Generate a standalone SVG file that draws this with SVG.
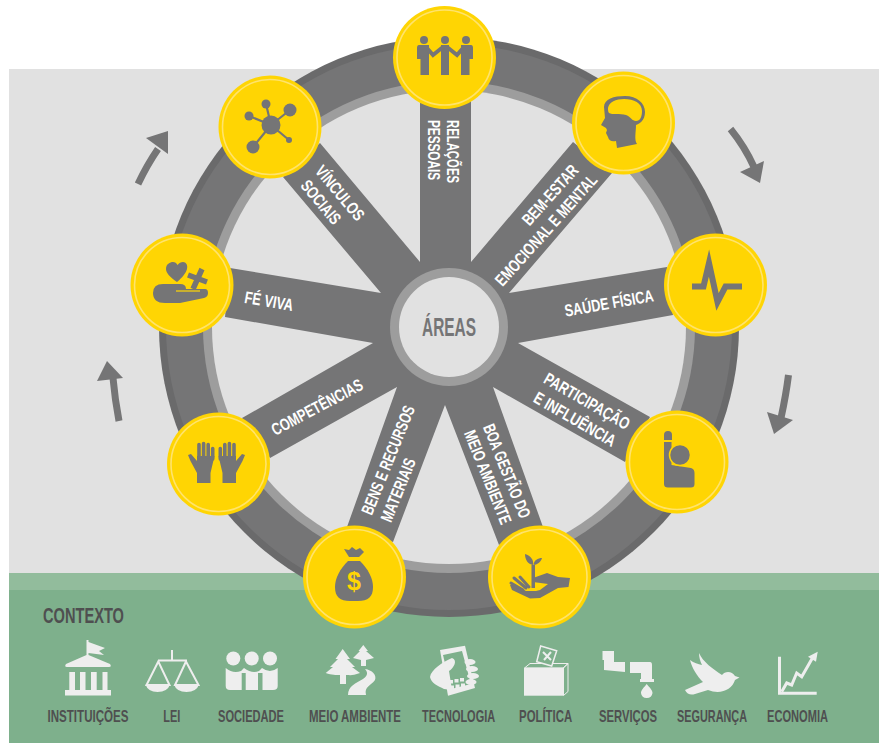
<svg xmlns="http://www.w3.org/2000/svg" width="881" height="743" viewBox="0 0 881 743">
<style>
text{font-family:"Liberation Sans",Arial,sans-serif;font-weight:700;text-anchor:middle}
.w{fill:#fff;font-size:17px}
.c{fill:#4f4f50;font-size:17px}
.g{fill:#757576}
.y{fill:#ffd503}
.e{fill:#eee}
.es{fill:none;stroke:#eee;stroke-width:2}
.disc{fill:#ffd503}
.ring{fill:none;stroke:#ffe36c;stroke-width:1.6}
.shaft{fill:none;stroke:#757576;stroke-width:7}
</style>
<defs>
<g id="disc"><circle class="disc" r="51.5"/><circle class="ring" r="47.5"/></g>
<g id="hand" class="g"><path d="M197 483V473L190.500 461L188 455L191 454L197 461V456H214.500L210.500 473V483Z"/><path d="M199 457V444.500M203.600 457V443.500M208.200 457V444.500M212.700 459V448.500" stroke="#757576" stroke-width="3.600" stroke-linecap="round" fill="none"/></g>
</defs>
<rect x="0" y="0" width="881" height="743" fill="#fff"/>
<rect id="background" x="9" y="69" width="870" height="504" fill="#e1e1e1"/>
<rect id="ground-light" x="9" y="573" width="870" height="17" fill="#92bc9c"/>
<rect id="ground" x="9" y="590" width="870" height="153" fill="#7eb08c"/>
<g id="wheel-rim">
<circle cx="449" cy="327" r="290" fill="#6a6a6b"/>
<circle cx="449" cy="327" r="283" fill="#757576"/>
<circle cx="449" cy="327" r="246" fill="#9d9d9d"/>
<circle cx="449" cy="327" r="237" fill="#e1e1e1"/>
</g>
<g id="connectors">
<path class="g" d="M420 100V262L320 143L283 177L381 293L230 268L225 317L373 343L242 418L270 458L397 387L347 527L393 542L445 405L499 545L543 527L493 387L625 462L650 417L518 343L673 315L667 267L509 293L612 173L573 142L471 262V100Z"/>
<path class="shaft" d="M138 184Q147 165 158 149"/><path class="g" d="M168 131L146 138L168 154Z"/>
<path class="shaft" d="M730.500 129Q745 147 754 167"/><path class="g" d="M764 161L740 172L760 183Z"/>
<path class="shaft" d="M788.500 375Q786 395 781 418"/><path class="g" d="M767 412L793 420L774 434Z"/>
<path class="shaft" d="M119 421Q115 400 113 378"/><path class="g" d="M107 361L97 381L123 378Z"/>
</g>
<g id="hub">
<circle cx="449" cy="327" r="59" fill="#9d9d9d"/>
<circle cx="449" cy="327" r="50" fill="#e1e1e1"/>
<text transform="translate(449 336) scale(.66 1)" font-size="25" fill="#757576" textLength="81.800" lengthAdjust="spacingAndGlyphs">ÁREAS</text>
</g>
<g id="node-relacoes">
<use href="#disc" x="444.500" y="57.500"/>
<g class="g"><circle cx="424" cy="40" r="4"/><circle cx="445" cy="40" r="4"/><circle cx="466" cy="40" r="4"/>
<path d="M419 45H429V75H420.500V59H417V48Q417 45 419 45ZM471 45H461V75H469.500V59H473V48Q473 45 471 45ZM441 45H449V75H441Z"/>
<path d="M426 47L433 55L443 47M447 47L457 55L464 47" fill="none" stroke="#757576" stroke-width="4"/></g>
<text class="w" transform="translate(447 151.500) rotate(90) scale(.66 1)" textLength="95.500" lengthAdjust="spacingAndGlyphs">RELAÇÕES</text>
<text class="w" transform="translate(428 150) rotate(90) scale(.66 1)" textLength="90.900" lengthAdjust="spacingAndGlyphs">PESSOAIS</text>
</g>
<g id="node-vinculos">
<use href="#disc" x="270" y="127"/>
<g class="g"><path d="M271 125L266 104M271 125L290 110M271 125L249 116M271 125L253 147M271 125L289 140" stroke="#757576" stroke-width="2.200"/>
<circle cx="271" cy="125" r="9.500"/><circle cx="266" cy="104" r="4.500"/><circle cx="290" cy="110" r="6.500"/><circle cx="249" cy="116" r="4.500"/><circle cx="253" cy="147" r="6.500"/><circle cx="289" cy="140" r="3"/></g>
<text class="w" transform="translate(340 193) rotate(50) translate(0 6) scale(.66 1)" textLength="100" lengthAdjust="spacingAndGlyphs">VÍNCULOS</text>
<text class="w" transform="translate(321 202) rotate(50) translate(0 6) scale(.66 1)" textLength="78.800" lengthAdjust="spacingAndGlyphs">SOCIAIS</text>
</g>
<g id="node-bem-estar">
<use href="#disc" x="623.500" y="123"/>
<path class="g" d="M604 107C604 99 614 96 625 96C637 96 645 103 645 112C645 121 639 124 636 125C636 132 634 140 637 144L617 148L616 141C612 142 609 141 608 137L606 133L607 130L606 128L601 125L605 118Z"/>
<path class="y" d="M608 108C609 102 616 99 624 99C634 99 642 103 642 111C642 117 640 121 636 121C632 121 631 117 626 115C620 113 612 115 609 113C608 112 608 110 608 108Z"/>
<text class="w" transform="translate(550 195) rotate(-48) translate(0 6) scale(.66 1)" textLength="113.600" lengthAdjust="spacingAndGlyphs">BEM-ESTAR</text>
<text class="w" transform="translate(546 230) rotate(-48) translate(0 6) scale(.66 1)" textLength="216.700" lengthAdjust="spacingAndGlyphs">EMOCIONAL E MENTAL</text>
</g>
<g id="node-saude">
<use href="#disc" x="715.500" y="285"/>
<path d="M692 286.500H703.500L709 263L717.500 302L725.500 286.500H742" fill="none" stroke="#757576" stroke-width="6" stroke-miterlimit="12"/>
<text class="w" transform="translate(609 303) rotate(-10) translate(0 6) scale(.66 1)" textLength="136.400" lengthAdjust="spacingAndGlyphs">SAÚDE FÍSICA</text>
</g>
<g id="node-participacao">
<use href="#disc" x="677" y="462"/>
<g class="g"><path d="M664 440V435A4 4 0 0 1 672 435V440Z"/>
<path d="M664 442H671.500V465L691 468Q694.500 469 694.500 473V484Q694.500 487.500 691 487.500H668Q664 487.500 664 484Z"/>
<circle cx="680" cy="455" r="10.500" stroke="#ffd503" stroke-width="1.500"/></g>
<text class="w" transform="translate(587 401) rotate(30) translate(0 6) scale(.66 1)" textLength="145.500" lengthAdjust="spacingAndGlyphs">PARTICIPAÇÃO</text>
<text class="w" transform="translate(575 419) rotate(30) translate(0 6) scale(.66 1)" textLength="139.400" lengthAdjust="spacingAndGlyphs">E INFLUÊNCIA</text>
</g>
<g id="node-gestao">
<use href="#disc" x="539.500" y="577"/>
<g class="g"><path d="M570 578L568.500 587L558 588L540 598L530 598.500L512 590L510 585L513 584L526 591L536 591L540 590L548 584L533 582L533 578L547 573L558 577Z"/>
<path d="M511 583L523 590M514 578L526 588M520 577L529 587" fill="none" stroke="#757576" stroke-width="3" stroke-linecap="round"/>
<rect x="531.500" y="565" width="3.500" height="23"/>
<path d="M525 554C531 556 534 560 533 565C528 564 525 560 525 554ZM542 558C541 562 537 565 533.500 565C534 560 538 558 542 558Z"/></g>
<text class="w" transform="translate(507 471) rotate(68) translate(0 6) scale(.66 1)" textLength="151.500" lengthAdjust="spacingAndGlyphs">BOA GESTÃO DO</text>
<text class="w" transform="translate(488 477) rotate(68) translate(0 6) scale(.66 1)" textLength="151.500" lengthAdjust="spacingAndGlyphs">MEIO AMBIENTE</text>
</g>
<g id="node-bens">
<use href="#disc" x="354.500" y="577"/>
<g class="g"><path d="M349 557L344 549L349 550L352 547L356 550L360 548L364 552L359 557Z"/>
<path d="M348 561H360C368 569 373 578 373 587C373 597 368 601 358 601H350C340 601 335 597 335 587C335 578 340 569 348 561Z"/></g>
<text class="y" x="354" y="590" font-size="25">$</text>
<text class="w" transform="translate(388 460) rotate(-68) translate(0 6) scale(.66 1)" textLength="175.800" lengthAdjust="spacingAndGlyphs">BENS E RECURSOS</text>
<text class="w" transform="translate(398 490) rotate(-68) translate(0 6) scale(.66 1)" textLength="101.500" lengthAdjust="spacingAndGlyphs">MATERIAIS</text>
</g>
<g id="node-competencias">
<use href="#disc" x="218.500" y="464"/>
<use href="#hand"/>
<use href="#hand" transform="translate(433 0) scale(-1 1)"/>
<text class="w" transform="translate(317 407) rotate(-28) translate(0 6) scale(.66 1)" textLength="153" lengthAdjust="spacingAndGlyphs">COMPETÊNCIAS</text>
</g>
<g id="node-fe">
<use href="#disc" x="182" y="285"/>
<g class="g"><path d="M177 282C170 277 166 273 166 269C166 264 170 262 173 262C175 262 176.500 263 177.500 265C179 263 181 262 183 262C186 262 188 265 187 269C186 273 182 278 177 282Z"/>
<path d="M202 269L193 289M188 275L207 282" fill="none" stroke="#757576" stroke-width="5.500"/>
<path d="M163 284H180Q186 284 186 289H205Q208 289 208 293Q208 297 204 298L180 303H165Q153 303 153 293Q153 284 163 284Z"/></g>
<path d="M176 291H200" stroke="#ffd503" stroke-width="1.200"/>
<text class="w" transform="translate(269 301) rotate(10) translate(0 6) scale(.66 1)" textLength="74.200" lengthAdjust="spacingAndGlyphs">FÉ VIVA</text>
</g>
<g id="context">
<text transform="translate(83.500 623) scale(.66 1)" font-size="22" fill="#4f4f50" textLength="122.700" lengthAdjust="spacingAndGlyphs">CONTEXTO</text>
<g id="ctx-instituicoes">
<path class="e" d="M86.500 640H88.500V642L105 648L99 651L104 655L88.500 653V655L110 664Q112 667 109 667H67Q64 667 66 664L86.500 655ZM69.300 672H75V690H69.300ZM80 672H85.500V690H80ZM91 672H96.700V690H91ZM102.500 672H107.500V690H102.500ZM65 690H111V695.500H65Z"/>
<text class="c" transform="translate(88 721.700) scale(.66 1)" textLength="122.700" lengthAdjust="spacingAndGlyphs">INSTITUIÇÕES</text>
</g>
<g id="ctx-lei">
<path class="es" d="M172 650V660M158 660.500H187M158.300 661.500L146.500 685H169.500ZM186 661.500L175 685H198.500Z"/>
<path class="e" d="M145.500 684.500H170Q167.500 692 157.500 692Q148 692 145.500 684.500ZM174 684.500H199Q196.500 692 186.500 692Q176.500 692 174 684.500Z"/>
<text class="c" transform="translate(171.700 721.700) scale(.66 1)" textLength="25.800" lengthAdjust="spacingAndGlyphs">LEI</text>
</g>
<g id="ctx-sociedade">
<g class="e"><circle cx="233.300" cy="658.500" r="7"/><circle cx="251.700" cy="658.500" r="7"/><circle cx="270" cy="658.500" r="7"/></g>
<path class="e" d="M225.700 668Q233 674 241 671L244 668Q252 674 259 671L262 668Q270 674 277.700 668V686Q277.700 690 273 690H230Q225.700 690 225.700 686Z"/>
<path d="M241.700 673H245.700V690H241.700ZM258 673H262.500V690H258Z" fill="#7eb08c"/>
<text class="c" transform="translate(251 721.700) scale(.66 1)" textLength="100" lengthAdjust="spacingAndGlyphs">SOCIEDADE</text>
</g>
<g id="ctx-meio">
<path class="e" d="M342.700 649L350 659H347L355 667H352L360 673C352 676 350 675 346 675V684H340V675C336 675 332 675 325.700 673L333 667H330L338 659H335.500ZM363.300 645L368 651H366L374 658L366 660V666H361V660L353 658L360 651H358.500ZM365 669C372 670 377 675 375 680C371 686 364 686 366 695H348C348 686 356 683 363 679C368 676 368 672 365 669Z"/>
<text class="c" transform="translate(355 721.700) scale(.66 1)" textLength="139.400" lengthAdjust="spacingAndGlyphs">MEIO AMBIENTE</text>
</g>
<g id="ctx-tecnologia">
<path class="e" d="M440 650L465 645.700L475 688L448 695.700Z"/>
<path d="M443 655L462 651L471 684L451 689Z" fill="#7eb08c"/>
<path class="e" d="M452 658C458 660 454 668 449 671L452 690L444 689C438 686 431 683 430 677C431 670 442 662 452 658Z"/>
<path class="e" d="M449 680H453V683.500H449ZM454.500 679H458.500V682.500H454.500ZM460 678H464V681.500H460ZM450 685.500H454V689H450ZM455.500 684.500H459.500V688H455.500ZM461 683.500H465V687H461Z"/>
<g class="e"><ellipse cx="470" cy="662" rx="5.500" ry="3"/><ellipse cx="472" cy="669" rx="6" ry="3"/><ellipse cx="473" cy="676" rx="6" ry="3"/><ellipse cx="471" cy="682" rx="5.500" ry="3"/></g>
<text class="c" transform="translate(458.600 721.700) scale(.66 1)" textLength="110.600" lengthAdjust="spacingAndGlyphs">TECNOLOGIA</text>
</g>
<g id="ctx-politica">
<path d="M524.500 668L530 663.500H568L563 668Z" fill="none" stroke="#eee" stroke-width="1"/>
<path d="M563.500 668L568 663.500V691.500L563.500 695.500Z" fill="none" stroke="#eee" stroke-width="1"/>
<rect class="e" x="524" y="667.700" width="39.300" height="28"/>
<path d="M540.700 646L556.700 650.700L551.700 666L536.700 661.700Z" fill="#7eb08c" stroke="#eee" stroke-width="1.500"/>
<path d="M543 652L551 660M551 652L544 660" stroke="#eee" stroke-width="2"/>
<text class="c" transform="translate(545.600 721.700) scale(.66 1)" textLength="80.300" lengthAdjust="spacingAndGlyphs">POLÍTICA</text>
</g>
<g id="ctx-servicos">
<path class="e" d="M602.500 651H614V662H625V672L604 670V660H602.500ZM630 662H650Q652 662 652 665V679H654V682H640V679H641V673H630ZM646.700 684C650 688 652.500 690 652.500 693A5.800 5.800 0 0 1 641 693C641 690 643.500 688 646.700 684Z"/>
<text class="c" transform="translate(628 721.700) scale(.66 1)" textLength="87.900" lengthAdjust="spacingAndGlyphs">SERVIÇOS</text>
</g>
<g id="ctx-seguranca">
<path class="e" d="M699 653C703 662 713 669 722 675C725 671 732 671 735 676L739.500 677.500L735 680C732 690 720 695 708 690L695 694Q688 696 685 690L703 682C697 676 692 668 690 660C694 663 698 664 702 665C700 661 699 657 699 653Z"/>
<text class="c" transform="translate(712 721.700) scale(.66 1)" textLength="106.100" lengthAdjust="spacingAndGlyphs">SEGURANÇA</text>
</g>
<g id="ctx-economia">
<path d="M779.500 656.700V693.300H816.700" fill="none" stroke="#eee" stroke-width="3"/>
<path d="M781.700 691.700L786.700 683L791.700 685L796.700 673L801.700 676.700L813 657" fill="none" stroke="#eee" stroke-width="3"/>
<path class="e" d="M817.700 651.700L808 656.700L816 661.700Z"/>
<text class="c" transform="translate(797.500 721.700) scale(.66 1)" textLength="92.400" lengthAdjust="spacingAndGlyphs">ECONOMIA</text>
</g>
</g>
</svg>
